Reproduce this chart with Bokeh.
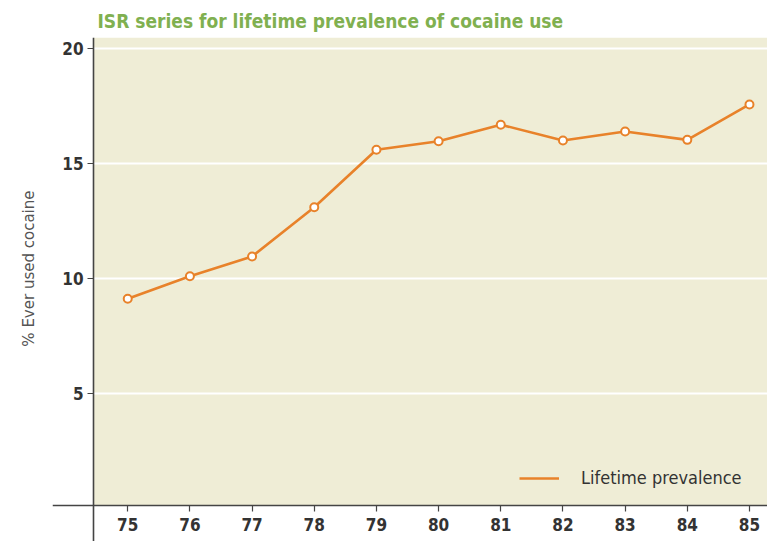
from bokeh.plotting import figure
from bokeh.models import Range1d, FixedTicker, BoxAnnotation, Title, Legend, LegendItem
from bokeh.embed import file_html
from bokeh.resources import INLINE

# ISR series: lifetime prevalence of cocaine use, by survey year
years = [75, 76, 77, 78, 79, 80, 81, 82, 83, 84, 85]
lifetime = [9.13, 10.11, 10.97, 13.11, 15.61, 15.98, 16.70, 16.01, 16.40, 16.04, 17.58]
y_ticks = [5, 10, 15, 20]
x_ticks = years

ORANGE = "#E8822A"
GREEN = "#80B050"
PANEL = "#EFEDD6"
INK = "#333333"
FONT = "DejaVu Sans Condensed"

# where the two axes cross, in data units
AXIS_X = 74.45
AXIS_Y = 0.14

p = figure(
    width=767, height=541,
    output_backend="svg", toolbar_location=None,
    x_range=Range1d(73.79, 85.29), y_range=Range1d(-1.42, 20.49),
    min_border_left=52, min_border_right=0, min_border_top=37, min_border_bottom=0,
)
p.outline_line_color = None
p.background_fill_color = "white"
p.border_fill_color = "white"

# shaded plotting panel, only inside the two axes
p.add_layout(BoxAnnotation(left=AXIS_X, bottom=AXIS_Y, fill_color=PANEL, fill_alpha=1.0,
                           line_color=None, level="image"))

# title
p.title.text = "ISR series for lifetime prevalence of cocaine use"
p.title.text_color = GREEN
p.title.text_font = FONT
p.title.text_font_size = "19px"
p.title.text_font_style = "bold"
p.title.offset = 45
p.title.standoff = 11

# y axis label as a rotated side title, hung from the top of the frame
p.add_layout(Title(text="% Ever used cocaine", align="right", offset=153,
                   text_font="DejaVu Sans", text_font_size="15px", text_font_style="normal",
                   text_color="#555555", standoff=30), "left")

# axes crossing inside the frame
for ax in (p.xaxis, p.yaxis):
    ax.axis_line_color = "#444444"
    ax.axis_line_width = 1.6
    ax.major_tick_line_color = "#444444"
    ax.major_tick_line_width = 1.2
    ax.minor_tick_line_color = None
    ax.major_tick_in = 0
    ax.major_tick_out = 6
    ax.major_label_text_font = FONT
    ax.major_label_text_font_size = "17px"
    ax.major_label_text_font_style = "bold"
    ax.major_label_text_color = INK

p.xaxis.fixed_location = AXIS_Y
p.yaxis.fixed_location = AXIS_X
p.xaxis.ticker = FixedTicker(ticks=x_ticks)
p.yaxis.ticker = FixedTicker(ticks=y_ticks)
p.xaxis.major_label_standoff = 6
p.yaxis.major_label_standoff = 4

p.xgrid.visible = False
p.ygrid.ticker = FixedTicker(ticks=y_ticks)
p.ygrid.grid_line_color = "white"
p.ygrid.grid_line_width = 2

# data
r_line = p.line(years, lifetime, line_color=ORANGE, line_width=2.6)
p.scatter(years, lifetime, size=8, fill_color="white", line_color=ORANGE, line_width=2)

legend = Legend(items=[LegendItem(label="Lifetime prevalence", renderers=[r_line])],
                location=(467, 53), padding=0, margin=0, glyph_width=40, label_standoff=22,
                border_line_color=None, background_fill_alpha=0.0,
                label_text_font=FONT, label_text_font_size="18px", label_text_color=INK)
p.add_layout(legend)

open("out.html", "w").write(file_html(p, INLINE))
